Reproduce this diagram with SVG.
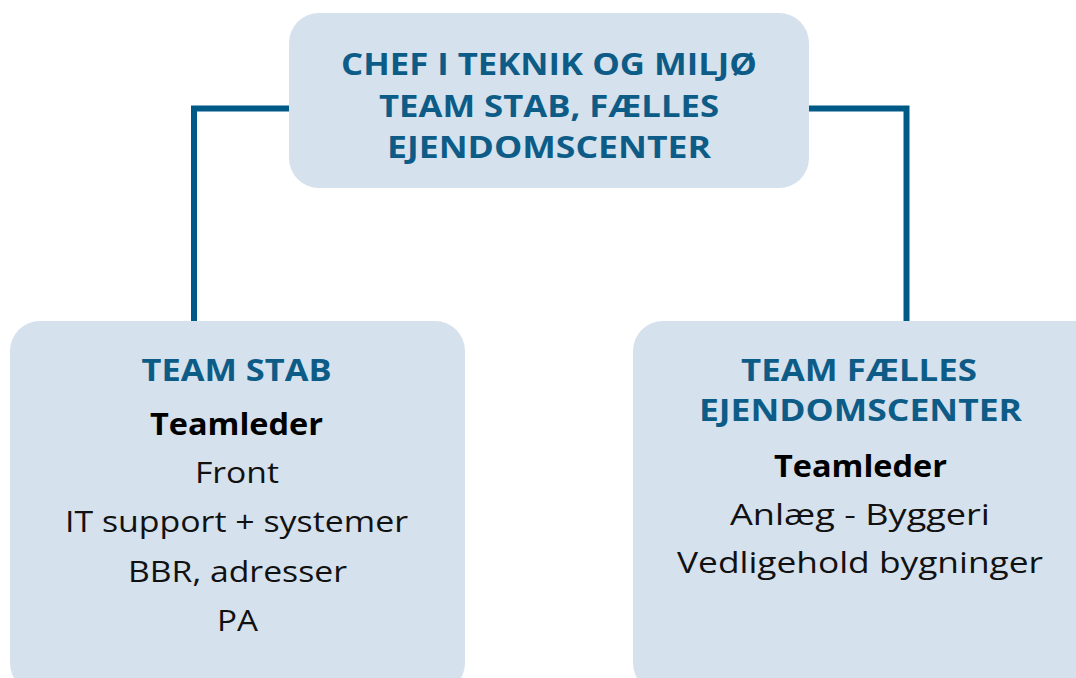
<svg xmlns="http://www.w3.org/2000/svg" width="1076" height="678" viewBox="0 0 1076 678">
<style>
.box{fill:#d5e1ed;}
.conn{fill:none;stroke:#005a87;stroke-width:6;stroke-linejoin:miter;stroke-linecap:butt;}
text{font-family:"Open Sans","DejaVu Sans",sans-serif;text-anchor:middle;}
.h{font-size:30px;font-weight:700;fill:#0d5c87;}
.b{font-size:30px;font-weight:700;fill:#000;}
.r{font-size:30px;font-weight:400;fill:#111;}
</style>
<rect width="1076" height="678" fill="#fff"/>
<g id="connectors">
<path class="conn" d="M289 108.5 H194 V322"/>
<path class="conn" d="M809 108.5 H906.5 V322"/>
</g>
<g id="chef">
<rect class="box" x="289" y="13" width="520" height="175" rx="30"/>
<text class="h" x="549" y="75" textLength="416" lengthAdjust="spacingAndGlyphs">CHEF I TEKNIK OG MILJØ</text>
<text class="h" x="549" y="117" textLength="340" lengthAdjust="spacingAndGlyphs">TEAM STAB, FÆLLES</text>
<text class="h" x="549" y="158" textLength="324" lengthAdjust="spacingAndGlyphs">EJENDOMSCENTER</text>
</g>
<g id="team-stab">
<rect class="box" x="10" y="321" width="455" height="372" rx="30"/>
<text class="h" x="236.5" y="381" textLength="190" lengthAdjust="spacingAndGlyphs">TEAM STAB</text>
<text class="b" x="236.5" y="435" textLength="173" lengthAdjust="spacingAndGlyphs">Teamleder</text>
<text class="r" x="237" y="483" textLength="84" lengthAdjust="spacingAndGlyphs">Front</text>
<text class="r" x="236.5" y="532" textLength="343" lengthAdjust="spacingAndGlyphs">IT support + systemer</text>
<text class="r" x="237.5" y="581.5" textLength="219" lengthAdjust="spacingAndGlyphs">BBR, adresser</text>
<text class="r" x="237.5" y="631" textLength="41" lengthAdjust="spacingAndGlyphs">PA</text>
</g>
<g id="team-faelles">
<rect class="box" x="633" y="321" width="480" height="372" rx="30"/>
<text class="h" x="859" y="381" textLength="236" lengthAdjust="spacingAndGlyphs">TEAM FÆLLES</text>
<text class="h" x="860.5" y="421" textLength="323" lengthAdjust="spacingAndGlyphs">EJENDOMSCENTER</text>
<text class="b" x="860.5" y="477" textLength="173" lengthAdjust="spacingAndGlyphs">Teamleder</text>
<text class="r" x="860" y="525" textLength="260" lengthAdjust="spacingAndGlyphs">Anlæg - Byggeri</text>
<text class="r" x="860" y="573" textLength="366" lengthAdjust="spacingAndGlyphs">Vedligehold bygninger</text>
</g>
</svg>
